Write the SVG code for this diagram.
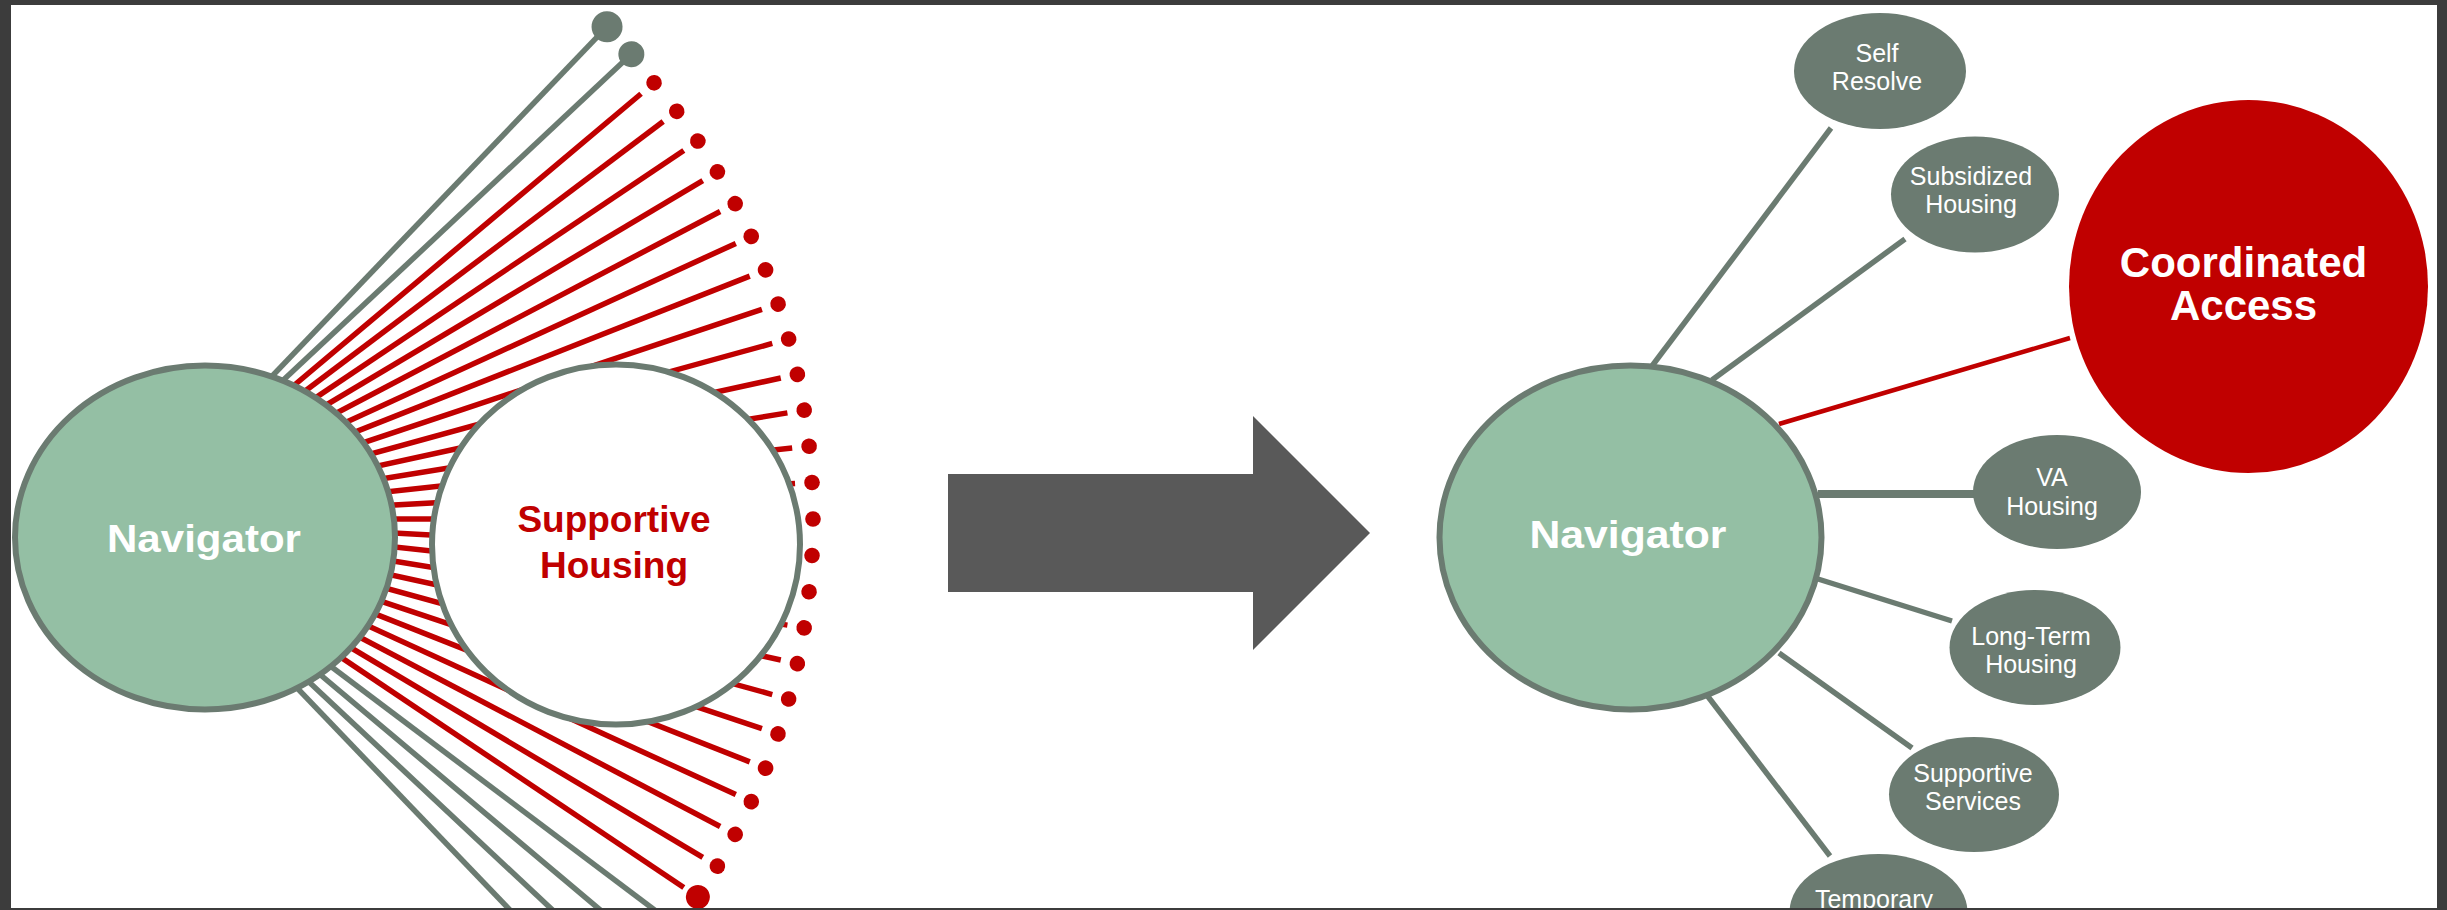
<svg xmlns="http://www.w3.org/2000/svg" xmlns:xlink="http://www.w3.org/1999/xlink" width="2447" height="910" viewBox="0 0 2447 910">
  <style>
    .bg { fill: #ffffff; }
    .frame { fill: #3c3c3c; fill-rule: evenodd; }
    .gline { stroke: #6b7b71; stroke-width: 5.5; fill: none; }
    .rline { stroke: #c00000; stroke-width: 5.5; fill: none; }
    .gdot { fill: #6b7b71; }
    .rdot { fill: #c00000; }
    .nav { fill: #94bfa4; stroke: #6b7b71; stroke-width: 6; }
    .sh { fill: #ffffff; stroke: #6b7b71; stroke-width: 6; }
    .sat { fill: #6b7b71; }
    .ca { fill: #c00000; }
    .navtxt { font-family: "Liberation Sans", Arial, sans-serif; font-weight: bold; font-size: 39px; fill: #ffffff; text-anchor: middle; }
    .shtxt { font-family: "Liberation Sans", Arial, sans-serif; font-weight: bold; font-size: 37px; fill: #c00000; text-anchor: middle; }
    .cattxt { font-family: "Liberation Sans", Arial, sans-serif; font-weight: bold; font-size: 42px; fill: #ffffff; text-anchor: middle; }
    .sattxt { font-family: "Liberation Sans", Arial, sans-serif; font-size: 25px; fill: #ffffff; text-anchor: middle; }
  </style>
  <defs>
    <g id="spoke-red">
      <line class="rline" x1="0" y1="0" x2="661" y2="0"/>
      <circle class="rdot" cx="678" cy="0" r="7.8"/>
    </g>
    <line id="spoke-gray-long" class="gline" x1="0" y1="0" x2="720" y2="0"/>
  </defs>

  <rect class="bg" x="0" y="0" width="2447" height="910"/>

  <!-- connectors -->
  <g id="connectors">
    <g id="fan" transform="translate(135,519)">
      <line class="gline" x1="0" y1="0" x2="680" y2="0" transform="rotate(-46.2)"/>
      <circle class="gdot" cx="682" cy="0" r="15.5" transform="rotate(-46.2)"/>
      <line class="gline" x1="0" y1="0" x2="678" y2="0" transform="rotate(-43.12)"/>
      <circle class="gdot" cx="680" cy="0" r="13" transform="rotate(-43.12)"/>
      <use xlink:href="#spoke-red" href="#spoke-red" transform="rotate(-40.04)"/>
      <use xlink:href="#spoke-red" href="#spoke-red" transform="rotate(-36.96)"/>
      <use xlink:href="#spoke-red" href="#spoke-red" transform="rotate(-33.88)"/>
      <use xlink:href="#spoke-red" href="#spoke-red" transform="rotate(-30.8)"/>
      <use xlink:href="#spoke-red" href="#spoke-red" transform="rotate(-27.72)"/>
      <use xlink:href="#spoke-red" href="#spoke-red" transform="rotate(-24.64)"/>
      <use xlink:href="#spoke-red" href="#spoke-red" transform="rotate(-21.56)"/>
      <use xlink:href="#spoke-red" href="#spoke-red" transform="rotate(-18.48)"/>
      <use xlink:href="#spoke-red" href="#spoke-red" transform="rotate(-15.4)"/>
      <use xlink:href="#spoke-red" href="#spoke-red" transform="rotate(-12.32)"/>
      <use xlink:href="#spoke-red" href="#spoke-red" transform="rotate(-9.24)"/>
      <use xlink:href="#spoke-red" href="#spoke-red" transform="rotate(-6.16)"/>
      <use xlink:href="#spoke-red" href="#spoke-red" transform="rotate(-3.08)"/>
      <use xlink:href="#spoke-red" href="#spoke-red"/>
      <use xlink:href="#spoke-red" href="#spoke-red" transform="rotate(3.08)"/>
      <use xlink:href="#spoke-red" href="#spoke-red" transform="rotate(6.16)"/>
      <use xlink:href="#spoke-red" href="#spoke-red" transform="rotate(9.24)"/>
      <use xlink:href="#spoke-red" href="#spoke-red" transform="rotate(12.32)"/>
      <use xlink:href="#spoke-red" href="#spoke-red" transform="rotate(15.4)"/>
      <use xlink:href="#spoke-red" href="#spoke-red" transform="rotate(18.48)"/>
      <use xlink:href="#spoke-red" href="#spoke-red" transform="rotate(21.56)"/>
      <use xlink:href="#spoke-red" href="#spoke-red" transform="rotate(24.64)"/>
      <use xlink:href="#spoke-red" href="#spoke-red" transform="rotate(27.72)"/>
      <use xlink:href="#spoke-red" href="#spoke-red" transform="rotate(30.8)"/>
      <line class="rline" x1="0" y1="0" x2="661" y2="0" transform="rotate(33.88)"/>
      <circle class="rdot" cx="678" cy="0" r="12" transform="rotate(33.88)"/>
      <use xlink:href="#spoke-gray-long" href="#spoke-gray-long" transform="rotate(36.96)"/>
      <use xlink:href="#spoke-gray-long" href="#spoke-gray-long" transform="rotate(40.04)"/>
      <use xlink:href="#spoke-gray-long" href="#spoke-gray-long" transform="rotate(43.12)"/>
      <use xlink:href="#spoke-gray-long" href="#spoke-gray-long" transform="rotate(46.2)"/>
    </g>
    <g id="hub">
      <line class="gline" x1="1652" y1="366" x2="1831" y2="128"/>
      <line class="gline" x1="1712" y1="380" x2="1905" y2="239"/>
      <line class="rline" style="stroke-width:4.5" x1="1779" y1="424" x2="2070" y2="338"/>
      <line class="gline" style="stroke-width:8" x1="1818" y1="494" x2="1975" y2="494"/>
      <line class="gline" x1="1818" y1="579" x2="1952" y2="621"/>
      <line class="gline" x1="1779" y1="653" x2="1912" y2="748"/>
      <line class="gline" x1="1706" y1="694" x2="1830" y2="856"/>
    </g>
  </g>

  <!-- left side nodes -->
  <g id="navigator-left">
    <ellipse class="nav" cx="205" cy="537.5" rx="190" ry="172"/>
    <text class="navtxt" x="204" y="552" textLength="194" lengthAdjust="spacingAndGlyphs">Navigator</text>
  </g>
  <g id="supportive-housing">
    <ellipse class="sh" cx="616" cy="544.5" rx="184" ry="180"/>
    <text class="shtxt" x="614" y="532">Supportive</text>
    <text class="shtxt" x="614" y="578">Housing</text>
  </g>

  <!-- transition arrow -->
  <g id="transition-arrow">
    <polygon points="948,474 1253,474 1253,416 1370,533 1253,650 1253,592 948,592" fill="#595959"/>
  </g>

  <!-- right side nodes -->
  <g id="navigator-right">
    <ellipse class="nav" cx="1630.5" cy="537.5" rx="191" ry="172"/>
    <text class="navtxt" x="1628" y="548" textLength="197" lengthAdjust="spacingAndGlyphs">Navigator</text>
  </g>
  <g id="self-resolve">
    <ellipse class="sat" cx="1880" cy="71" rx="86" ry="58"/>
    <text class="sattxt" x="1877" y="62">Self</text>
    <text class="sattxt" x="1877" y="90">Resolve</text>
  </g>
  <g id="subsidized-housing">
    <ellipse class="sat" cx="1975" cy="194.5" rx="84" ry="58"/>
    <text class="sattxt" x="1971" y="185">Subsidized</text>
    <text class="sattxt" x="1971" y="213">Housing</text>
  </g>
  <g id="coordinated-access">
    <ellipse class="ca" cx="2248.5" cy="286.5" rx="179.5" ry="186.5"/>
    <text class="cattxt" x="2243.5" y="277">Coordinated</text>
    <text class="cattxt" x="2243.5" y="320">Access</text>
  </g>
  <g id="va-housing">
    <ellipse class="sat" cx="2057" cy="492" rx="84" ry="57"/>
    <text class="sattxt" x="2052" y="486">VA</text>
    <text class="sattxt" x="2052" y="515">Housing</text>
  </g>
  <g id="long-term-housing">
    <ellipse class="sat" cx="2035" cy="647.5" rx="85.5" ry="57.5"/>
    <text class="sattxt" x="2031" y="645">Long-Term</text>
    <text class="sattxt" x="2031" y="673">Housing</text>
  </g>
  <g id="supportive-services">
    <ellipse class="sat" cx="1974" cy="794.5" rx="85" ry="57.5"/>
    <text class="sattxt" x="1973" y="782">Supportive</text>
    <text class="sattxt" x="1973" y="810">Services</text>
  </g>
  <g id="temporary">
    <ellipse class="sat" cx="1878.5" cy="912" rx="89" ry="58"/>
    <text class="sattxt" x="1874" y="908">Temporary</text>
  </g>

  <!-- window frame -->
  <path class="frame" d="M0,0 H2447 V910 H0 Z M11,5 V908 H2437 V5 Z"/>
</svg>
